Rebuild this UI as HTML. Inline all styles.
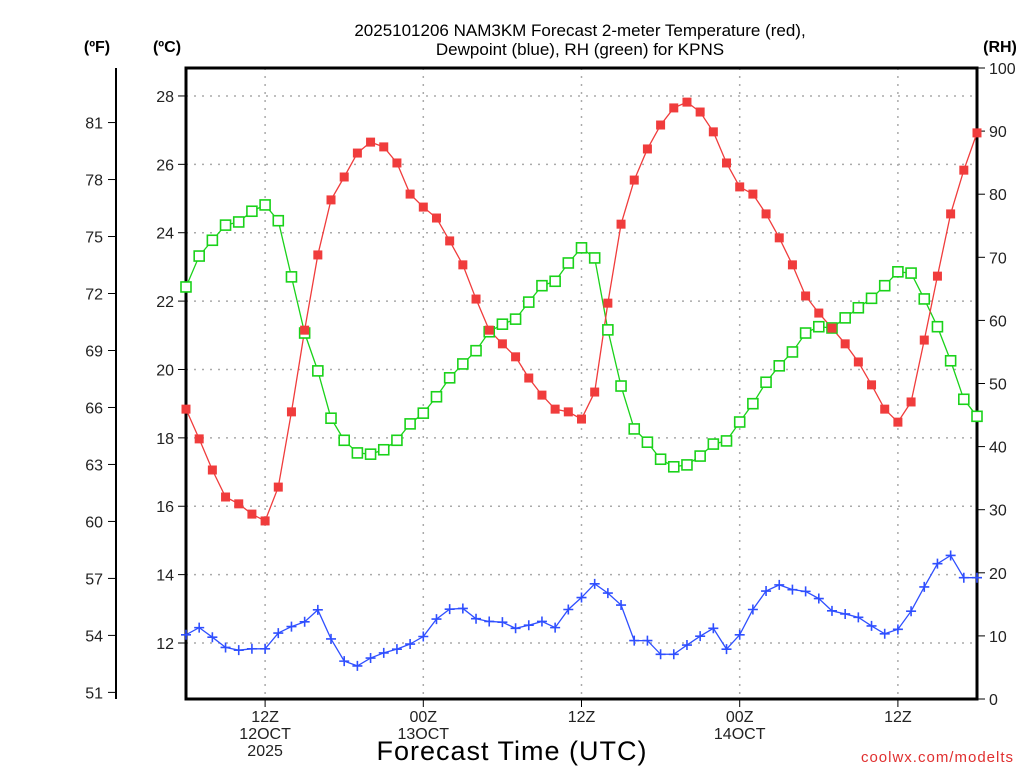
<!DOCTYPE html>
<html><head><meta charset="utf-8"><style>
html,body{margin:0;padding:0;background:#fff;}
svg{display:block;font-family:"Liberation Sans",sans-serif;}
</style></head><body>
<svg id="chart" width="1024" height="768" viewBox="0 0 1024 768" xmlns="http://www.w3.org/2000/svg">
<rect width="1024" height="768" fill="#fff"/>
<text x="580" y="36" font-size="17" text-anchor="middle" fill="#000">2025101206 NAM3KM Forecast 2-meter Temperature (red),</text>
<text x="580" y="55" font-size="17" text-anchor="middle" fill="#000">Dewpoint (blue), RH (green) for KPNS</text>
<text x="97" y="52" font-size="16" font-weight="bold" text-anchor="middle">(ºF)</text>
<text x="167" y="52" font-size="16" font-weight="bold" text-anchor="middle">(ºC)</text>
<text x="1000" y="52" font-size="16" font-weight="bold" text-anchor="middle">(RH)</text>
<text x="512" y="760" font-size="27" text-anchor="middle" letter-spacing="1">Forecast Time (UTC)</text>
<text x="1014" y="762" font-size="15" fill="#e03030" text-anchor="end" letter-spacing="1">coolwx.com/modelts</text>
<g id="grid"></g><g id="axes"></g><g id="series"></g>
</svg>
<script>
const hours = Array.from({length:61},(_,i)=>i); // hours from 06Z 12 Oct
const tempC = [18.84,17.97,17.06,16.27,16.07,15.77,15.57,16.56,18.76,21.15,23.35,24.96,25.63,26.33,26.65,26.51,26.04,25.13,24.75,24.43,23.76,23.06,22.06,21.15,20.75,20.37,19.75,19.25,18.84,18.76,18.55,19.34,21.94,24.25,25.54,26.45,27.15,27.65,27.82,27.53,26.95,26.04,25.34,25.13,24.55,23.85,23.06,22.15,21.65,21.21,20.75,20.22,19.55,18.84,18.46,19.05,20.86,22.73,24.55,25.83,26.92];
const dewC = [12.24,12.45,12.17,11.87,11.79,11.83,11.83,12.29,12.48,12.62,12.97,12.12,11.47,11.33,11.56,11.71,11.82,11.97,12.19,12.70,12.99,13.01,12.71,12.63,12.61,12.43,12.52,12.63,12.45,12.98,13.33,13.73,13.46,13.11,12.07,12.07,11.67,11.67,11.94,12.20,12.43,11.82,12.24,12.98,13.52,13.70,13.56,13.51,13.30,12.94,12.85,12.75,12.50,12.27,12.40,12.93,13.64,14.32,14.56,13.91,13.91];
const rh = [65.3,70.2,72.7,75.1,75.6,77.3,78.3,75.8,66.9,58.0,52.0,44.5,41.0,39.0,38.8,39.5,41.0,43.6,45.3,47.9,50.9,53.1,55.2,58.2,59.4,60.2,62.9,65.5,66.2,69.1,71.5,69.9,58.5,49.6,42.8,40.7,38.0,36.8,37.1,38.5,40.4,40.9,43.9,46.8,50.2,52.8,55.0,58.0,59.0,58.8,60.4,62.0,63.5,65.5,67.7,67.5,63.4,59.0,53.6,47.5,44.8];
const cTicks = [12,14,16,18,20,22,24,26,28];
const fTicks = [51,54,57,60,63,66,69,72,75,78,81];
const rhTicks = [0,10,20,30,40,50,60,70,80,90,100];
const xTickHours = [6,18,30,42,54];
const xTickLabels = [["12Z","12OCT","2025"],["00Z","13OCT"],["12Z"],["00Z","14OCT"],["12Z"]];

const L=186,R=977,T=68,B=699;
const xS=h=>L+h*(R-L)/60;
const yC=c=>643-(c-12)*34.19;
const yF=f=>yC((f-32)*5/9);
const yRH=v=>B-v*(B-T)/100;
const NS="http://www.w3.org/2000/svg";
function mk(tag,attrs,parent){const e=document.createElementNS(NS,tag);for(const k in attrs)e.setAttribute(k,attrs[k]);parent.appendChild(e);return e;}
const grid=document.getElementById('grid'),axes=document.getElementById('axes'),ser=document.getElementById('series');

cTicks.forEach(c=>{
  const g=mk('line',{x1:L,x2:R,y1:yC(c),y2:yC(c),stroke:'#aaa','stroke-dasharray':'2,6','stroke-width':1.5},grid);
  
  
  mk('line',{x1:L-8,x2:L,y1:yC(c),y2:yC(c),stroke:'#000','stroke-width':1},axes);
  const t=mk('text',{x:L-12,y:yC(c)+6,'font-size':16,'text-anchor':'end',fill:'#222'},axes);
  t.textContent=c;
  
  
});
xTickHours.forEach((h,i)=>{
  const g=mk('line',{x1:xS(h),x2:xS(h),y1:T,y2:B,stroke:'#aaa','stroke-dasharray':'2,6','stroke-width':1.5},grid);
  
  
  mk('line',{x1:xS(h),x2:xS(h),y1:B,y2:B+8,stroke:'#000','stroke-width':1},axes);
  xTickLabels[i].forEach((s,j)=>{
    const t=mk('text',{x:xS(h),y:B+23+j*17,'font-size':16,'text-anchor':'middle',fill:'#222'},axes);
    t.textContent=s;
    
    
  });
});
// F axis
const fa=mk('line',{x1:116,x2:116,y1:T,y2:B,stroke:'#000','stroke-width':2},axes);


fTicks.forEach(f=>{
  mk('line',{x1:108,x2:116,y1:yF(f),y2:yF(f),stroke:'#000','stroke-width':1},axes);
  const t=mk('text',{x:103,y:yF(f)+6,'font-size':16,'text-anchor':'end',fill:'#222'},axes);
  t.textContent=f;
  
  
});
// RH axis
rhTicks.forEach(v=>{
  mk('line',{x1:R,x2:R+8,y1:yRH(v),y2:yRH(v),stroke:'#000','stroke-width':1},axes);
  const t=mk('text',{x:R+12,y:yRH(v)+6,'font-size':16,'text-anchor':'start',fill:'#222'},axes);
  t.textContent=v;
  
  
});
const fr=mk('rect',{x:L,y:T,width:R-L,height:B-T,fill:'none',stroke:'#000','stroke-width':3},axes);



function line(vals,yf,color,name){
  const p=mk('polyline',{points:vals.map((v,i)=>xS(hours[i])+','+yf(v)).join(' '),fill:'none',stroke:color,'stroke-width':1.3},ser);
  
  
}
line(rh,yRH,'#1ad21a','rh');
line(dewC,yC,'#2f4fff','dewpoint');
line(tempC,yC,'#f03c3c','temperature');
rh.forEach((v,i)=>{
  const r=mk('rect',{x:xS(hours[i])-5,y:yRH(v)-5,width:10,height:10,fill:'#fff',stroke:'#1ad21a','stroke-width':1.6},ser);
  
  
});
dewC.forEach((v,i)=>{
  const x=xS(hours[i]),y=yC(v);
  const p=mk('path',{d:`M${x-5},${y}H${x+5}M${x},${y-5}V${y+5}`,stroke:'#2f4fff','stroke-width':1.6,fill:'none'},ser);
  
  
});
tempC.forEach((v,i)=>{
  const r=mk('rect',{x:xS(hours[i])-4.5,y:yC(v)-4.5,width:9,height:9,fill:'#f03c3c'},ser);
  
  
});
</script>
</body></html>
